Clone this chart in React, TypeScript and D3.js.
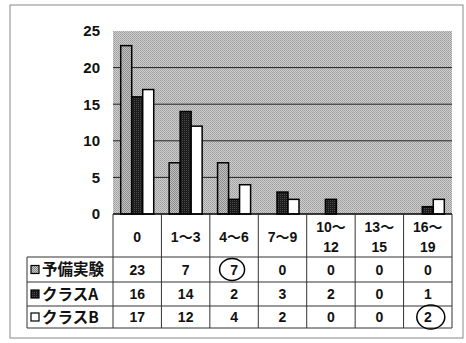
import React from "react";
import * as d3 from "d3";

const categories = ["0", "1～3", "4～6", "7～9", "10～\n12", "13～\n15", "16～\n19"];
const seriesNames = ["予備実験", "クラスA", "クラスB"];
const yobi = [23, 7, 7, 0, 0, 0, 0];
const classA = [16, 14, 2, 3, 2, 0, 1];
const classB = [17, 12, 4, 2, 0, 0, 2];
const yTicks = [0, 5, 10, 15, 20, 25];

const seriesValues = [yobi, classA, classB];
const fills = ["url(#pYobi)", "url(#pA)", "#ffffff"];

const W = 466;
const H = 343;
const plot = { left: 113, right: 452, top: 31, bottom: 214 };
const rows = [257, 282, 306, 328];
const labelLeft = 27;

export default function App() {
  const x0 = d3.scaleBand<string>().domain(categories).range([plot.left, plot.right]).padding(0);
  const x1 = d3
    .scaleBand<string>()
    .domain(seriesNames)
    .range([0, x0.step()])
    .paddingInner(0)
    .paddingOuter(0.7);
  const y = d3.scaleLinear().domain([0, 25]).range([plot.bottom, plot.top]);

  const numFont = "'Liberation Sans', Arial, 'Noto Sans CJK JP', sans-serif";
  const jpFont = "'Noto Sans CJK JP', sans-serif";
  const colEdges = [plot.left, ...categories.map((c) => (x0(c) as number) + x0.step())];

  const circles = [
    { col: 2, row: 0, dx: -2, rx: 12.5, ry: 11 },
    { col: 6, row: 2, dx: 3, rx: 14, ry: 12 },
  ];

  return (
    <svg width={W} height={H} style={{ position: "absolute", left: 0, top: 0, background: "#fff" }}>
      <defs>
        <pattern id="pBg" width="2" height="2" patternUnits="userSpaceOnUse">
          <rect width="2" height="2" fill="#cfcfcf" />
          <rect width="1" height="1" fill="#9c9c9c" />
          <rect x="1" y="1" width="1" height="1" fill="#a8a8a8" />
        </pattern>
        <pattern id="pYobi" width="2" height="2" patternUnits="userSpaceOnUse">
          <rect width="2" height="2" fill="#c4c4c4" />
          <rect width="1" height="1" fill="#8a8a8a" />
          <rect x="1" y="1" width="1" height="1" fill="#8a8a8a" />
        </pattern>
        <pattern id="pA" width="2" height="2" patternUnits="userSpaceOnUse">
          <rect width="2" height="2" fill="#1c1c1c" />
          <rect width="1" height="1" fill="#4a4a4a" />
        </pattern>
      </defs>

      {/* outer frame */}
      <rect x={10} y={5} width={453} height={333} fill="none" stroke="#888" strokeWidth={1} />

      {/* plot background */}
      <rect
        x={plot.left}
        y={plot.top}
        width={plot.right - plot.left}
        height={plot.bottom - plot.top}
        fill="url(#pBg)"
      />

      {/* gridlines */}
      {yTicks
        .filter((t) => t > 0 && t < 25)
        .map((t) => (
          <line key={t} x1={plot.left} x2={plot.right} y1={y(t)} y2={y(t)} stroke="#222" strokeWidth={1} />
        ))}

      {/* bars */}
      {categories.map((c, ci) =>
        seriesNames.map((s, si) => {
          const v = seriesValues[si][ci];
          if (v <= 0) return null;
          const bx = (x0(c) as number) + (x1(s) as number);
          return (
            <rect
              key={c + s}
              x={bx}
              y={y(v)}
              width={x1.bandwidth()}
              height={y(0) - y(v)}
              fill={fills[si]}
              stroke="#000"
              strokeWidth={1.5}
            />
          );
        })
      )}

      {/* x axis line */}
      <line x1={plot.left} x2={plot.right} y1={plot.bottom} y2={plot.bottom} stroke="#000" strokeWidth={1.5} />

      {/* y tick labels */}
      {yTicks.map((t) => (
        <text
          key={t}
          x={100}
          y={y(t)}
          dy="0.36em"
          textAnchor="end"
          fontFamily={numFont}
          fontWeight="bold"
          fontSize={15}
          fill="#111"
        >
          {t}
        </text>
      ))}

      {/* table lines */}
      {colEdges.map((cx, i) => (
        <line key={"v" + i} x1={cx} x2={cx} y1={plot.bottom} y2={rows[3]} stroke="#333" strokeWidth={1} />
      ))}
      <line x1={labelLeft} x2={labelLeft} y1={rows[0]} y2={rows[3]} stroke="#333" strokeWidth={1} />
      {rows.map((ry, i) => (
        <line key={"h" + i} x1={labelLeft} x2={plot.right} y1={ry} y2={ry} stroke="#333" strokeWidth={1} />
      ))}

      {/* header labels */}
      {categories.map((c) => {
        const lines = c.split("\n");
        const cx = (x0(c) as number) + x0.step() / 2;
        const ys = lines.length === 1 ? [237] : [227, 247];
        return (
          <g key={c}>
            {lines.map((l, li) => (
              <text
                key={li}
                x={cx}
                y={ys[li]}
                dy="0.36em"
                textAnchor="middle"
                fontFamily={numFont}
                fontWeight="bold"
                fontSize={14}
                fill="#111"
              >
                {l}
              </text>
            ))}
          </g>
        );
      })}

      {/* row labels and values */}
      {seriesNames.map((s, si) => {
        const cy = (rows[si] + rows[si + 1]) / 2;
        return (
          <g key={s}>
            <rect x={31} y={cy - 4} width={8} height={8} fill={fills[si]} stroke="#000" strokeWidth={1.2} />
            <text x={42} y={cy} dy="0.36em" fontFamily={jpFont} fontWeight="bold" fontSize={15.5} fill="#111">
              {s}
            </text>
            {categories.map((c, ci) => (
              <text
                key={c}
                x={(x0(c) as number) + x0.step() / 2}
                y={cy}
                dy="0.36em"
                textAnchor="middle"
                fontFamily={numFont}
                fontWeight="bold"
                fontSize={14}
                fill="#111"
              >
                {seriesValues[si][ci]}
              </text>
            ))}
          </g>
        );
      })}

      {/* hand-drawn circles */}
      {circles.map((o, i) => {
        const cx = (x0(categories[o.col]) as number) + x0.step() / 2 + o.dx;
        const cy = (rows[o.row] + rows[o.row + 1]) / 2;
        return <ellipse key={i} cx={cx} cy={cy} rx={o.rx} ry={o.ry} fill="none" stroke="#000" strokeWidth={1.5} />;
      })}
    </svg>
  );
}
